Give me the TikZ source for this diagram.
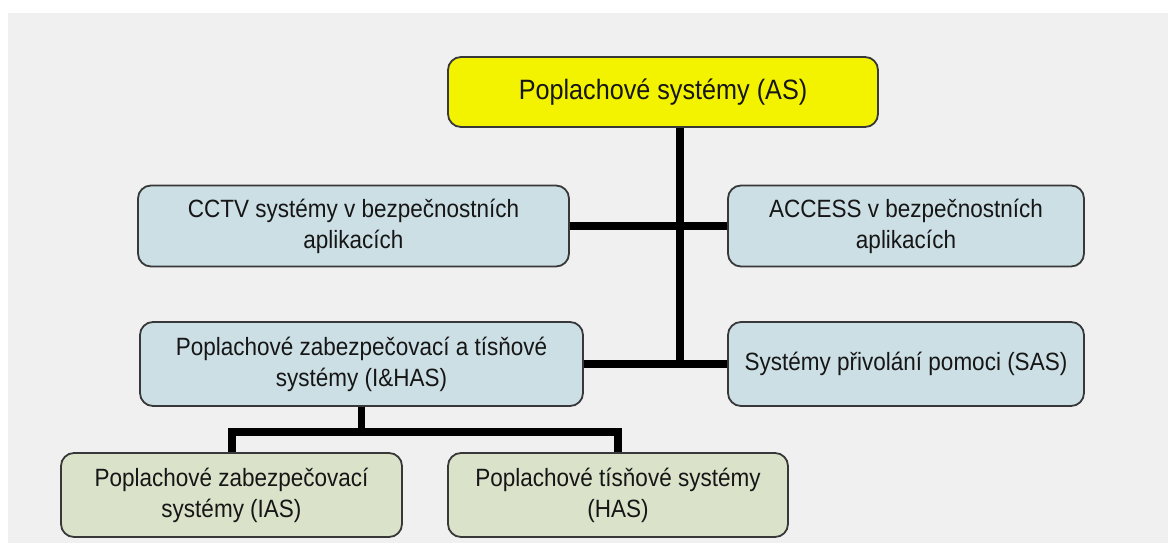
\documentclass[tikz,border=0pt]{standalone}
\usepackage{fontspec}
\setmainfont{Liberation Sans}[FakeStretch=0.9]
\definecolor{bgc}{HTML}{F0F0F0}
\definecolor{yelc}{HTML}{F3F300}
\definecolor{bluec}{HTML}{CCDFE5}
\definecolor{greenc}{HTML}{DAE2CA}
\definecolor{edgec}{HTML}{383838}
\definecolor{txtc}{HTML}{161616}
\tikzset{
  box/.style={draw=edgec, line width=1.8pt, rounded corners=13pt, align=center,
    inner sep=0pt, text=txtc, font=\fontsize{25}{31}\selectfont},
  topbox/.style={box, fill=yelc, font=\fontsize{28}{32}\selectfont},
  bluebox/.style={box, fill=bluec},
  greenbox/.style={box, fill=greenc},
  conn/.style={line width=7.5pt, black, line cap=butt, line join=miter}
}
\begin{document}
\begin{tikzpicture}[x=1pt,y=-1pt]
\useasboundingbox (0,0) rectangle (1168,543);
\fill[white] (0,0) rectangle (1168,543);
\fill[bgc] (8,13) rectangle (1168,543);

\coordinate (tx) at (680,0);
\coordinate (dl) at (232,432);
\coordinate (dr) at (618,432);

\node[topbox, minimum width=430pt, minimum height=70pt] (as) at (663,92) {Poplachové systémy (AS)};
\node[bluebox, minimum width=431pt, minimum height=81pt] (cctv) at (353.5,226) {CCTV systémy v bezpečnostních\\aplikacích};
\node[bluebox, minimum width=356pt, minimum height=81pt] (acc) at (906,226) {ACCESS v bezpečnostních\\aplikacích};
\node[bluebox, minimum width=443pt, minimum height=84pt] (ihas) at (361.5,364) {Poplachové zabezpečovací a tísňové\\systémy (I\&HAS)};
\node[bluebox, minimum width=356pt, minimum height=84pt] (sas) at (906,364) {Systémy přivolání pomoci (SAS)};
\node[greenbox, minimum width=341pt, minimum height=84pt] (ias) at (231.5,495) {Poplachové zabezpečovací\\systémy (IAS)};
\node[greenbox, minimum width=340pt, minimum height=84pt] (has) at (618,495) {Poplachové tísňové systémy\\(HAS)};

\draw[conn] (tx |- as.south) -- (tx |- sas.west);
\draw[conn] (cctv.east) -- (acc.west);
\draw[conn] (ihas.east) -- (sas.west);
\draw[conn] (ihas.south) -- (ihas.south |- dl);
\draw[conn] (dl |- ias.north) -- (dl) -- (dr) -- (dr |- has.north);
\end{tikzpicture}
\end{document}
